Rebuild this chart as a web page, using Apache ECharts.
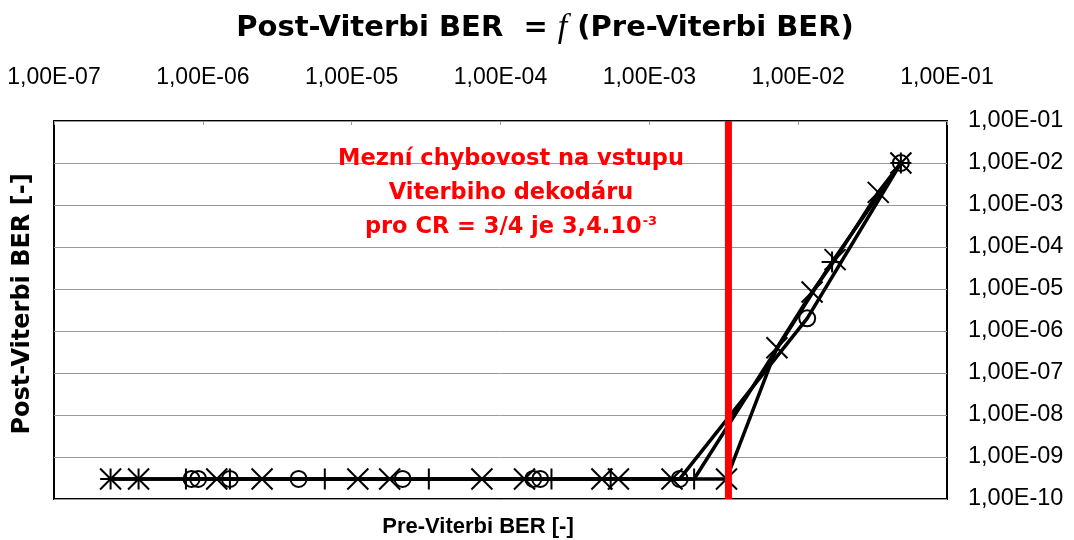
<!DOCTYPE html>
<html>
<head>
<meta charset="utf-8">
<script src="https://cdn.jsdelivr.net/npm/echarts@6/dist/echarts.min.js"></script>
<style>
  html, body { margin: 0; padding: 0; background: #fff; }
  #chart { width: 1074px; height: 540px; }
</style>
</head>
<body>
<div id="chart"></div>
<script>
// Pre-Viterbi BER (x) and Post-Viterbi BER (y) for three measurement runs.
// Runs with no decoded errors sit on the 3e-10 floor.
const preCross  = [2.4e-7, 3.7e-7, 1.24e-6, 2.5e-6, 1.1e-5, 1.8e-5, 7.5e-5, 1.45e-4, 4.8e-4, 6.2e-4, 1.42e-3, 3.3e-3, 7.2e-3, 1.24e-2, 1.77e-2, 3.45e-2, 4.9e-2];
const postCross = [3e-10, 3e-10, 3e-10, 3e-10, 3e-10, 3e-10, 3e-10, 3e-10, 3e-10, 3e-10, 3e-10, 3e-10, 4e-7, 8.5e-6, 5e-5, 2e-3, 1e-2];

const prePlus  = [2.4e-7, 3.7e-7, 7.7e-7, 1.52e-6, 6.6e-6, 3.3e-5, 2.2e-4, 5.5e-4, 2.0e-3, 1.69e-2, 4.9e-2];
const postPlus = [3e-10, 3e-10, 3e-10, 3e-10, 3e-10, 3e-10, 3e-10, 3e-10, 3e-10, 4.4e-5, 1e-2];

const preCircle  = [8.4e-7, 9.3e-7, 1.52e-6, 4.4e-6, 2.2e-5, 1.66e-4, 1.85e-4, 1.6e-3, 1.15e-2, 4.9e-2];
const postCircle = [3e-10, 3e-10, 3e-10, 3e-10, 3e-10, 3e-10, 3e-10, 3e-10, 2e-6, 1e-2];

// Decoder input threshold for CR = 3/4
const thresholdX = [3.4e-3, 3.4e-3];
const thresholdY = [1e-10, 1e-1];

// Axis tick labels, indexed by decade exponent
const xTickLabels = { '-7': '1,00E-07', '-6': '1,00E-06', '-5': '1,00E-05', '-4': '1,00E-04', '-3': '1,00E-03', '-2': '1,00E-02', '-1': '1,00E-01' };
const yTickLabels = { '-10': '1,00E-10', '-9': '1,00E-09', '-8': '1,00E-08', '-7': '1,00E-07', '-6': '1,00E-06', '-5': '1,00E-05', '-4': '1,00E-04', '-3': '1,00E-03', '-2': '1,00E-02', '-1': '1,00E-01' };

const zip = (xs, ys) => xs.map((x, i) => [x, ys[i]]);
const expOf = v => String(Math.round(Math.log10(v)));

const crossPath = 'path://M0,0L10,10M10,0L0,10';
const plusPath = 'path://M5,0L5,10M0,5L10,5';

function dataSeries(name, xs, ys, symbol, size) {
  return {
    name: name,
    type: 'line',
    data: zip(xs, ys),
    symbol: symbol,
    symbolSize: size,
    showAllSymbol: true,
    lineStyle: { color: '#000', width: 3.5 },
    itemStyle: { color: 'rgba(0,0,0,0)', borderColor: '#000', borderWidth: 2 },
    emphasis: { disabled: true },
    z: 3
  };
}

const chart = echarts.init(document.getElementById('chart'), null, { renderer: 'canvas' });

chart.setOption({
  animation: false,
  backgroundColor: '#fff',
  grid: {
    left: 54, right: 127, top: 121, bottom: 41,
    show: true, borderColor: '#000', borderWidth: 2, backgroundColor: 'transparent'
  },
  xAxis: {
    type: 'log', logBase: 10, min: 1e-7, max: 1e-1, splitNumber: 6,
    position: 'top',
    axisLine: { show: false },
    axisTick: { show: true, inside: true, length: 4, lineStyle: { color: '#999', width: 1 } },
    splitLine: { show: false },
    axisLabel: {
      margin: 32,
      fontFamily: 'Liberation Sans', fontSize: 23, color: '#000',
      formatter: v => xTickLabels[expOf(v)] || ''
    }
  },
  yAxis: {
    type: 'log', logBase: 10, min: 1e-10, max: 1e-1, splitNumber: 9,
    position: 'right',
    axisLine: { show: false },
    axisTick: { show: false },
    splitLine: { show: true, lineStyle: { color: '#999', width: 1 } },
    axisLabel: {
      margin: 21,
      fontFamily: 'Liberation Sans', fontSize: 23.5, color: '#000',
      formatter: v => yTickLabels[expOf(v)] || ''
    }
  },
  series: [
    dataSeries('cross', preCross, postCross, crossPath, 21),
    dataSeries('plus', prePlus, postPlus, plusPath, 21),
    dataSeries('circle', preCircle, postCircle, 'circle', 16),
    {
      name: 'threshold',
      type: 'line',
      data: zip(thresholdX, thresholdY),
      symbol: 'none',
      lineStyle: { color: '#ff0000', width: 7 },
      emphasis: { disabled: true },
      z: 5
    }
  ],
  graphic: [
    {
      type: 'text', z: 10,
      style: {
        x: 545, y: 28, align: 'center', verticalAlign: 'middle',
        text: '{b|Post-Viterbi BER  = }{f|f}{b| (Pre-Viterbi BER)}',
        rich: {
          b: { fontFamily: 'DejaVu Sans', fontWeight: 'bold', fontSize: 29, fill: '#000' },
          f: { fontFamily: 'Liberation Serif', fontStyle: 'italic', fontSize: 34, fill: '#000' }
        }
      }
    },
    {
      type: 'text', z: 10,
      style: {
        x: 511, y: 193, align: 'center', verticalAlign: 'middle',
        text: '{t|Mezní chybovost na vstupu}\n{t|Viterbiho dekodáru}\n{t|pro CR = 3/4 je 3,4.10}{s|-3}',
        rich: {
          t: { fontFamily: 'DejaVu Sans', fontWeight: 'bold', fontSize: 22.5, lineHeight: 34, fill: '#ff0000' },
          s: { fontFamily: 'DejaVu Sans', fontWeight: 'bold', fontSize: 13, lineHeight: 14, verticalAlign: 'top', padding: [5, 0, 0, 1], fill: '#ff0000' }
        }
      }
    },
    {
      type: 'text', z: 10,
      rotation: Math.PI / 2, x: 23, y: 304,
      style: {
        x: 0, y: 0, align: 'center', verticalAlign: 'middle',
        text: 'Post-Viterbi BER [-]',
        fontFamily: 'DejaVu Sans', fontWeight: 'bold', fontSize: 24, fill: '#000'
      }
    },
    {
      type: 'text', z: 10,
      style: {
        x: 478, y: 527, align: 'center', verticalAlign: 'middle',
        text: 'Pre-Viterbi BER [-]',
        fontFamily: 'Liberation Sans', fontWeight: 'bold', fontSize: 22, fill: '#000'
      }
    }
  ]
});
</script>
</body>
</html>
